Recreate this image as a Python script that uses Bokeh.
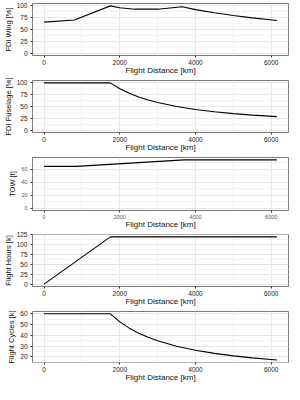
from bokeh.plotting import figure
from bokeh.layouts import column
from bokeh.models import FixedTicker, Range1d
from bokeh.embed import file_html
from bokeh.resources import INLINE

# ---- data ----
wing_x = [0, 800, 1750, 2000, 2400, 3000, 3650, 4000, 4500, 5000, 5500, 6150]
wing_y = [65.5, 70, 100, 96, 93, 93, 98, 92, 85.5, 79.5, 74.5, 69]

fus_x = [0, 1750, 2000, 2250, 2500, 2750, 3000, 3500, 4000, 4500, 5000, 5500, 6150]
fus_y = [100, 100, 87.5, 77.8, 70, 63.6, 58.3, 50, 43.8, 38.9, 35, 31.8, 28.5]

tow_x = [0, 850, 3700, 6150]
tow_y = [64, 64, 74, 74]

hours_x = [0, 1750, 6150]
hours_y = [0, 120, 120]

cyc_x = [0, 1750, 2000, 2250, 2500, 2750, 3000, 3500, 4000, 4500, 5000, 5500, 6150]
cyc_y = [60, 60, 52.5, 46.7, 42, 38.2, 35, 30, 26.25, 23.3, 21, 19.1, 17.1]

x_ticks = [0, 2000, 4000, 6000]
x_minor = [1000, 3000, 5000]
x_label = "Flight Distance [km]"

panels = [
    dict(x=wing_x, y=wing_y, label="FDI Wing [%]", yr=(-5, 105),
         ticks=[0, 25, 50, 75, 100], minor=[12.5, 37.5, 62.5, 87.5], small=False),
    dict(x=fus_x, y=fus_y, label="FDI Fuselage [%]", yr=(-5, 105),
         ticks=[0, 25, 50, 75, 100], minor=[12.5, 37.5, 62.5, 87.5], small=False),
    dict(x=tow_x, y=tow_y, label="TOW [t]", yr=(-3.7, 77.7),
         ticks=[0, 20, 40, 60], minor=[10, 30, 50, 70], small=True),
    dict(x=hours_x, y=hours_y, label="Flight Hours [k]", yr=(-6, 126),
         ticks=[0, 25, 50, 75, 100, 125], minor=[12.5, 37.5, 62.5, 87.5, 112.5], small=False),
    dict(x=cyc_x, y=cyc_y, label="Flight Cycles [k]", yr=(14.85, 62.15),
         ticks=[20, 30, 40, 50, 60], minor=[15, 25, 35, 45, 55], small=False),
]

FONT = "Liberation Sans"
heights = [77, 77, 77, 77, 76]
figs = []
for pnl, h in zip(panels, heights):
    p = figure(width=292, height=h, output_backend="svg", toolbar_location=None,
               x_range=Range1d(-307, 6457), y_range=Range1d(*pnl["yr"]),
               min_border_left=26, min_border_right=4, min_border_top=3,
               min_border_bottom=2)
    p.line(pnl["x"], pnl["y"], line_color="black", line_width=1.1)
    p.outline_line_color = "#7a7a7a"
    p.outline_line_width = 1
    p.background_fill_color = "white"
    p.border_fill_color = "white"

    p.xaxis.ticker = FixedTicker(ticks=x_ticks, minor_ticks=x_minor)
    p.yaxis.ticker = FixedTicker(ticks=pnl["ticks"], minor_ticks=pnl["minor"])
    for g in p.xgrid + p.ygrid:
        g.grid_line_color = "#e6e6e6"
        g.grid_line_width = 1
        g.minor_grid_line_color = "#f3f3f3"
        g.minor_grid_line_width = 1

    tick_size = "5.5px" if pnl["small"] else "6.5px"
    tick_color = "#555555" if pnl["small"] else "#1a1a1a"
    for ax in p.xaxis + p.yaxis:
        ax.axis_line_color = None
        ax.major_tick_line_color = "#333333"
        ax.major_tick_out = 2
        ax.major_tick_in = 0
        ax.minor_tick_line_color = None
        ax.major_label_text_font = FONT
        ax.major_label_text_font_size = tick_size
        ax.major_label_text_color = tick_color
        ax.major_label_standoff = 1
        ax.axis_label_text_font = FONT
        ax.axis_label_text_font_style = "normal"
        ax.axis_label_text_color = "#111111"
        ax.axis_label_standoff = 1
    p.xaxis.axis_label_standoff = -2
    p.xaxis.major_label_standoff = 0
    p.xaxis.axis_label_text_font_size = "8px"
    p.yaxis.axis_label_text_font_size = "7.5px"
    p.xaxis.axis_label = x_label
    p.yaxis.axis_label = pnl["label"]
    figs.append(p)

layout = column(*figs)
open("out.html", "w").write(file_html(layout, INLINE))
